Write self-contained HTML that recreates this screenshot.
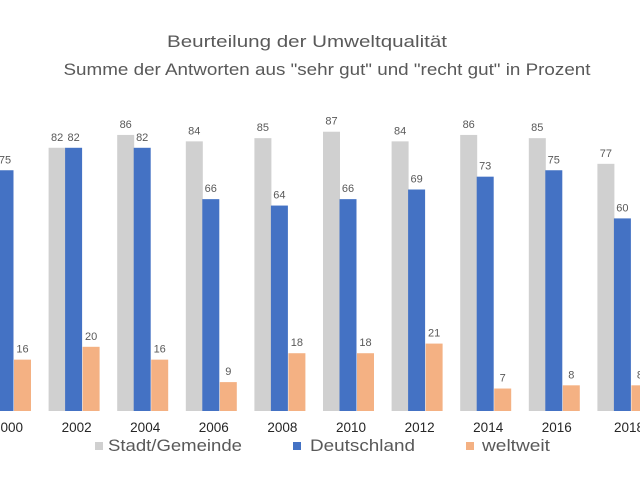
<!DOCTYPE html>
<html><head><meta charset="utf-8"><style>html,body{margin:0;padding:0;background:#fff}svg{display:block}</style></head>
<body>
<svg width="640" height="480" xmlns="http://www.w3.org/2000/svg" font-family="Liberation Sans, sans-serif">
<rect width="640" height="480" fill="#fff"/>
<text x="307" y="47" text-anchor="middle" font-size="17" fill="#595959" textLength="280" lengthAdjust="spacingAndGlyphs">Beurteilung der Umweltqualität</text>
<text x="327" y="75" text-anchor="middle" font-size="17" fill="#595959" textLength="527" lengthAdjust="spacingAndGlyphs">Summe der Antworten aus "sehr gut" und "recht gut" in Prozent</text>
<g fill="#d0d0d0">
<rect x="48.6" y="147.78" width="17" height="263.22"/>
<rect x="117.2" y="134.94" width="17" height="276.06"/>
<rect x="185.8" y="141.36" width="17" height="269.64"/>
<rect x="254.4" y="138.15" width="17" height="272.85"/>
<rect x="323" y="131.73" width="17" height="279.27"/>
<rect x="391.6" y="141.36" width="17" height="269.64"/>
<rect x="460.2" y="134.94" width="17" height="276.06"/>
<rect x="528.8" y="138.15" width="17" height="272.85"/>
<rect x="597.4" y="163.83" width="17" height="247.17"/>
</g>
<g fill="#4472c4">
<rect x="-3.5" y="170.25" width="17" height="240.75"/>
<rect x="65.1" y="147.78" width="17" height="263.22"/>
<rect x="133.7" y="147.78" width="17" height="263.22"/>
<rect x="202.3" y="199.14" width="17" height="211.86"/>
<rect x="270.9" y="205.56" width="17" height="205.44"/>
<rect x="339.5" y="199.14" width="17" height="211.86"/>
<rect x="408.1" y="189.51" width="17" height="221.49"/>
<rect x="476.7" y="176.67" width="17" height="234.33"/>
<rect x="545.3" y="170.25" width="17" height="240.75"/>
<rect x="613.9" y="218.4" width="17" height="192.6"/>
</g>
<g fill="#f4b183">
<rect x="14" y="359.64" width="17" height="51.36"/>
<rect x="82.6" y="346.8" width="17" height="64.2"/>
<rect x="151.2" y="359.64" width="17" height="51.36"/>
<rect x="219.8" y="382.11" width="17" height="28.89"/>
<rect x="288.4" y="353.22" width="17" height="57.78"/>
<rect x="357" y="353.22" width="17" height="57.78"/>
<rect x="425.6" y="343.59" width="17" height="67.41"/>
<rect x="494.2" y="388.53" width="17" height="22.47"/>
<rect x="562.8" y="385.32" width="17" height="25.68"/>
<rect x="631.4" y="385.32" width="17" height="25.68"/>
</g>
<g font-size="11" fill="#595959" text-anchor="middle">
<text x="57.1" y="140.8">82</text><text x="125.7" y="127.9">86</text><text x="194.3" y="134.4">84</text><text x="262.9" y="131.2">85</text><text x="331.5" y="124.7">87</text><text x="400.1" y="134.4">84</text><text x="468.7" y="127.9">86</text><text x="537.3" y="131.2">85</text><text x="605.9" y="156.8">77</text>
<text x="5" y="163.3">75</text><text x="73.6" y="140.8">82</text><text x="142.2" y="140.8">82</text><text x="210.8" y="192.1">66</text><text x="279.4" y="198.6">64</text><text x="348" y="192.1">66</text><text x="416.6" y="182.5">69</text><text x="485.2" y="169.7">73</text><text x="553.8" y="163.3">75</text><text x="622.4" y="211.4">60</text>
<text x="22.5" y="352.6">16</text><text x="91.1" y="339.8">20</text><text x="159.7" y="352.6">16</text><text x="228.3" y="375.1">9</text><text x="296.9" y="346.2">18</text><text x="365.5" y="346.2">18</text><text x="434.1" y="336.6">21</text><text x="502.7" y="381.5">7</text><text x="571.3" y="378.3">8</text><text x="639.9" y="378.3">8</text>
</g>
<g font-size="13.5" fill="#262626" text-anchor="middle">
<text x="8" y="432">2000</text><text x="76.6" y="432">2002</text><text x="145.2" y="432">2004</text><text x="213.8" y="432">2006</text><text x="282.4" y="432">2008</text><text x="351" y="432">2010</text><text x="419.6" y="432">2012</text><text x="488.2" y="432">2014</text><text x="556.8" y="432">2016</text><text x="629" y="432">2018</text>
</g>
<rect x="95" y="442" width="8" height="8" fill="#d0d0d0"/>
<text x="108" y="451" font-size="17" fill="#595959" textLength="134" lengthAdjust="spacingAndGlyphs">Stadt/Gemeinde</text>
<rect x="293" y="442" width="8" height="8" fill="#4472c4"/>
<text x="310" y="451" font-size="17" fill="#595959" textLength="105" lengthAdjust="spacingAndGlyphs">Deutschland</text>
<rect x="466" y="442" width="8" height="8" fill="#f4b183"/>
<text x="482" y="451" font-size="17" fill="#595959" textLength="68" lengthAdjust="spacingAndGlyphs">weltweit</text>
</svg>
</body></html>
